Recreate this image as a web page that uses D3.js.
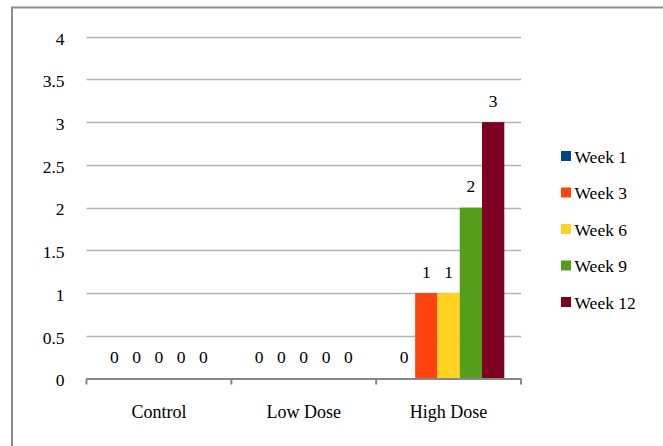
<!DOCTYPE html>
<html><head><meta charset="utf-8">
<script src="https://d3js.org/d3.v7.min.js"></script>
<style>body{margin:0;background:#fff}svg{display:block}</style>
</head><body><svg id="c" width="663" height="446"></svg>
<script>
const categories = ["Control", "Low Dose", "High Dose"];
const seriesNames = ["Week 1", "Week 3", "Week 6", "Week 9", "Week 12"];
const week1 = [0, 0, 0];
const week3 = [0, 0, 1];
const week6 = [0, 0, 1];
const week9 = [0, 0, 2];
const week12 = [0, 0, 3];
const yTicks = [0, 0.5, 1, 1.5, 2, 2.5, 3, 3.5, 4];
const colors = ["#004586", "#ff420e", "#ffd320", "#579d1c", "#7e0021"];

const FONT = "Liberation Serif";
const FS = 17.5;
const series = [week1, week3, week6, week9, week12];
const svg = d3.select("#c");
const L = 86.5, R = 521, T = 36.7, B = 378.5;

svg.append("rect").attr("x", 12).attr("y", 7.5).attr("width", 700).attr("height", 500)
  .attr("fill", "none").attr("stroke", "#8c8c8c").attr("stroke-width", 2);

const x0 = d3.scaleBand().domain(categories).range([L, R]).paddingInner(0).paddingOuter(0);
const x1 = d3.scaleBand().domain(seriesNames).range([0, x0.bandwidth()]).paddingInner(0).paddingOuter(0.75);
const y = d3.scaleLinear().domain([0, 4]).range([B, T]);

// gridlines
svg.append("g").selectAll("line").data(yTicks.filter(d => d > 0)).join("line")
  .attr("x1", L).attr("x2", R).attr("y1", d => Math.round(y(d)) + 0.5).attr("y2", d => Math.round(y(d)) + 0.5)
  .attr("stroke", "#b3b3b3").attr("stroke-width", 1.5);

// y labels
const ya = svg.append("g").attr("transform", `translate(${L},0)`)
  .call(d3.axisLeft(y).tickValues(yTicks).tickSize(0).tickPadding(22).tickFormat(d => String(d)));
ya.select(".domain").remove();
ya.selectAll("text").attr("font-size", FS).style("font-family", FONT).attr("fill", "#000").attr("dy", "0.42em");

// bars
const groups = svg.append("g").selectAll("g").data(categories).join("g")
  .attr("transform", c => `translate(${x0(c)},0)`);
groups.each(function(c, ci) {
  const g = d3.select(this);
  seriesNames.forEach((s, si) => {
    const v = series[si][ci];
    g.append("rect").attr("x", x1(s)).attr("width", x1.bandwidth())
      .attr("y", y(v)).attr("height", y(0) - y(v)).attr("fill", colors[si]);
    g.append("text").attr("x", x1(s) + x1.bandwidth() / 2).attr("y", y(v) - 21.5)
      .attr("text-anchor", "middle").attr("dy", "0.35em").attr("font-size", FS)
      .style("font-family", FONT).attr("fill", "#000").text(v);
  });
});

// x axis
const xa = svg.append("g").attr("transform", `translate(0,${B})`)
  .call(d3.axisBottom(x0).tickSize(0).tickPadding(27));
xa.select(".domain").remove();
xa.selectAll("text").attr("font-size", FS + 0.5).style("font-family", FONT).attr("fill", "#000");
svg.append("line").attr("x1", L).attr("x2", R).attr("y1", B + 0.5).attr("y2", B + 0.5)
  .attr("stroke", "#878787").attr("stroke-width", 2);
const bounds = categories.map(c => x0(c)).concat([R]);
svg.append("g").selectAll("line").data(bounds).join("line")
  .attr("x1", d => d).attr("x2", d => d).attr("y1", B).attr("y2", B + 6)
  .attr("stroke", "#878787").attr("stroke-width", 2);

// legend
const lg = svg.append("g").selectAll("g").data(seriesNames).join("g")
  .attr("transform", (d, i) => `translate(561,${156 + i * 36.5})`);
lg.append("rect").attr("x", 0).attr("y", -5).attr("width", 10).attr("height", 10).attr("fill", (d, i) => colors[i]);
lg.append("text").attr("x", 13.5).attr("dy", "0.38em").attr("font-size", FS)
  .style("font-family", FONT).attr("fill", "#000").text(d => d);
</script></body></html>
